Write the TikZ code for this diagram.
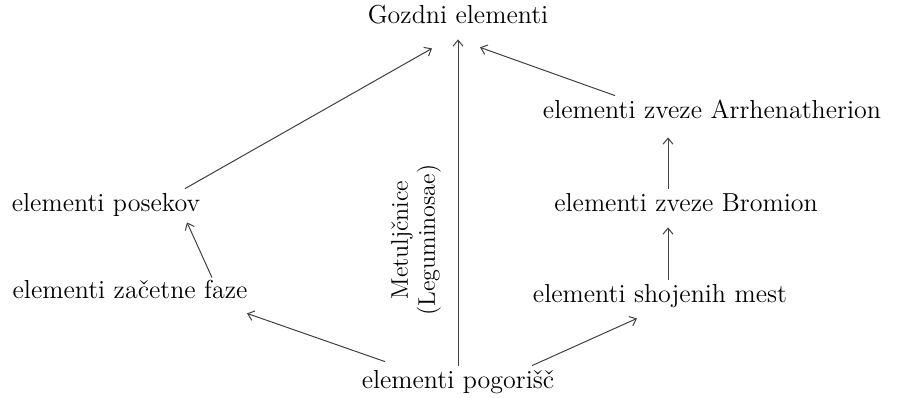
\documentclass[tikz,border=0pt]{standalone}
\usepackage{tikz}
\usetikzlibrary{arrows.meta}

\begin{document}
\begin{tikzpicture}[x=0.5pt, y=-0.5pt,
	elem/.style={font=\fontsize{13}{15}\selectfont, inner sep=2pt, text height=9pt, text depth=3pt},
	link/.style={draw=black!75, line width=0.5pt, -{Straight Barb[length=3pt, width=5pt]}}]
	\useasboundingbox (0,0) rectangle (898,397);
	\node[elem] (gozd) at (458,17) {Gozdni elementi};
	\node[elem] (arrh) at (712,112) {elementi zveze Arrhenatherion};
	\node[elem] (brom) at (686,205) {elementi zveze Bromion};
	\node[elem] (shoj) at (660,296) {elementi shojenih mest};
	\node[elem] (posek) at (106,205) {elementi posekov};
	\node[elem] (faze) at (130,292) {elementi začetne faze};
	\node[elem] (pog) at (458,382) {elementi pogorišč};
	\node[font=\fontsize{12}{13.5}\selectfont, rotate=90, align=center] (legum) at (416,240) {Metuljčnice\\(Leguminosae)};
	\draw[link] (pog.north) -- ([yshift=-3pt]gozd.south);
	\draw[link] ([xshift=-36.5pt, yshift=2pt]pog.north) -- ([xshift=58.5pt, yshift=-2.5pt]faze.south);
	\draw[link] ([xshift=37pt]pog.north) -- ([xshift=-11.5pt, yshift=-3pt]shoj.south);
	\draw[link] ([xshift=41pt, yshift=-1pt]faze.north) -- ([xshift=40.5pt, yshift=-0.5pt]posek.south);
	\draw[link] ([xshift=39.5pt]posek.north) -- ([xshift=-13pt, yshift=-7.5pt]gozd.south);
	\draw[link] ([xshift=4pt]shoj.north) -- ([xshift=-9pt, yshift=-3pt]brom.south);
	\draw[link] ([xshift=-9pt]brom.north) -- ([xshift=-22pt, yshift=-4.5pt]arrh.south);
	\draw[link] ([xshift=-48.5pt]arrh.north) -- ([xshift=11pt, yshift=-7pt]gozd.south);
\end{tikzpicture}
\end{document}
